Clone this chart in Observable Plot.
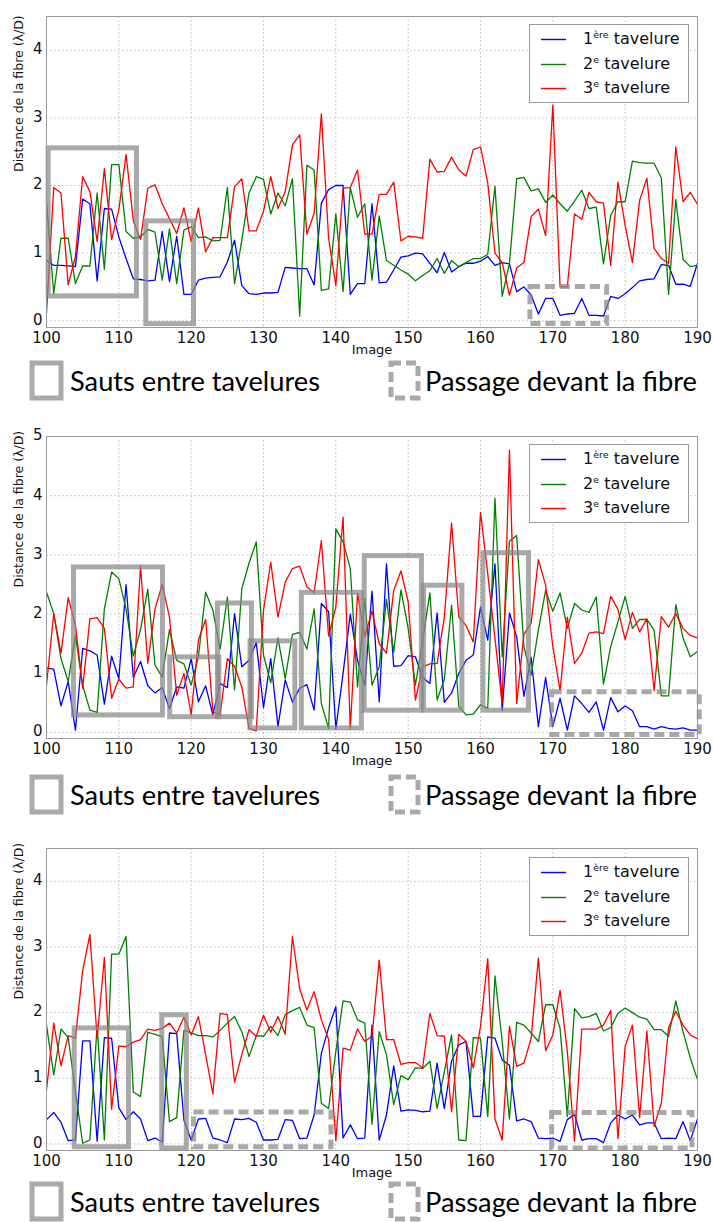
<!DOCTYPE html>
<html>
<head>
<meta charset="utf-8">
<script src="https://cdn.jsdelivr.net/npm/d3@7"></script>
<script src="https://cdn.jsdelivr.net/npm/@observablehq/plot@0.6"></script>
<style>
  html, body { margin: 0; padding: 0; background: #fff; }
  body { width: 713px; height: 1222px; position: relative; overflow: hidden; font-family: "DejaVu Sans", sans-serif; }
  .panel { position: absolute; left: 0; }
  .leg { position: absolute; left: 529px; width: 158px; height: 77px; border: 1px solid #999; background: #fff; box-sizing: content-box; }
  .leg .row { position: absolute; left: 0; height: 20px; width: 158px; }
  .leg .sample { position: absolute; left: 11px; top: 9px; }
  .leg .lbl { position: absolute; left: 53px; top: 0; font-size: 16px; line-height: 20px; color: #111; white-space: nowrap; }
  .leg sup { font-size: 9.5px; vertical-align: 0; position: relative; top: -6px; }
  .boxleg { position: absolute; left: 0; width: 713px; height: 42px; }
</style>
</head>
<body>
<script>
// ---------- data ----------
const imageStart = 100, imageEnd = 190;
const images = d3.range(imageStart, imageEnd + 1);
const xTicks = [100, 110, 120, 130, 140, 150, 160, 170, 180, 190];
const yTicks1 = [0, 1, 2, 3, 4];
const yTicks2 = [0, 1, 2, 3, 4, 5];
const yTicks3 = [0, 1, 2, 3, 4];
const seriesNames = ["1ère tavelure", "2e tavelure", "3e tavelure"];
const seriesColors = ["#0000ff", "#008000", "#ff0000"];
const xLabel = "Image";
const yLabel = "Distance de la fibre (λ/D)";
const boxLegendLabels = ["Sauts entre tavelures", "Passage devant la fibre"];

// Panel 1
const blue1 = [0.89,0.82,0.82,0.81,0.80,1.80,1.73,0.59,1.66,1.65,
  1.24,0.92,0.62,0.61,0.59,0.60,1.32,0.58,1.25,0.39,
  0.39,0.60,0.63,0.64,0.65,0.87,1.19,0.52,0.40,0.39,
  0.41,0.41,0.42,0.79,0.78,0.77,0.77,0.53,1.74,1.94,
  2.00,2.00,0.39,0.55,0.55,1.73,0.56,0.57,0.75,0.94,
  0.96,1.00,0.99,0.85,0.71,1.01,0.72,0.80,0.85,0.85,
  0.88,0.95,0.82,0.86,0.84,0.43,0.50,0.38,0.10,0.33,
  0.33,0.08,0.10,0.11,0.33,0.08,0.08,0.07,0.36,0.33,
  0.40,0.49,0.59,0.61,0.62,0.83,0.82,0.54,0.54,0.51,0.85];
const green1 = [1.76,0.40,1.22,1.22,0.55,0.81,0.81,1.89,0.76,2.31,
  2.31,1.32,1.22,1.24,1.35,1.31,0.60,1.36,0.55,1.34,
  1.39,1.23,1.24,1.18,1.19,1.97,0.55,1.19,1.89,2.13,
  2.09,1.58,1.89,1.70,2.10,0.07,2.30,2.23,0.45,0.47,
  1.58,0.43,1.97,1.53,1.73,0.60,1.55,0.89,0.82,0.75,
  0.69,0.59,0.67,0.74,0.92,0.70,0.89,0.80,0.86,0.92,
  0.92,0.98,1.99,0.36,0.85,2.10,2.12,1.92,1.95,1.75,
  1.86,1.73,1.62,1.77,1.93,1.66,1.68,0.84,1.56,1.76,
  1.76,2.36,2.34,2.33,2.33,2.11,0.39,1.79,0.91,0.80,0.82];
const red1 = [0.11,1.97,1.89,0.53,0.95,2.13,1.91,1.17,2.25,1.20,
  1.64,2.46,1.48,1.20,1.96,2.01,1.73,1.51,1.29,1.67,
  1.17,1.67,1.02,1.23,1.23,1.23,1.98,2.10,1.33,1.33,
  1.62,2.13,1.66,1.91,2.60,2.75,1.28,1.59,3.06,1.22,
  0.52,1.96,1.97,2.23,1.28,1.28,1.87,1.87,2.05,1.18,
  1.25,1.24,1.22,2.39,2.20,2.21,2.42,2.23,2.14,2.53,
  2.57,2.04,1.00,0.86,0.38,0.78,0.86,1.54,1.65,1.26,
  3.19,0.50,0.50,1.58,1.50,1.90,1.76,1.74,0.82,2.05,
  1.41,0.86,1.78,2.11,1.07,0.92,0.85,2.57,1.76,1.90,1.72];
// boxes: [x1, x2, y1, y2]
const jumps1 = [[100.3,112.5,0.36,2.55],[113.8,120.4,-0.05,1.47]];
const passes1 = [[166.9,177.5,-0.05,0.50]];

// Panel 2
const blue2 = [1.09,1.07,0.45,0.86,0.04,1.42,1.38,1.31,0.48,1.29,
  0.91,2.50,0.93,1.20,0.79,0.67,0.76,0.40,0.77,0.75,
  1.25,0.52,0.79,0.30,0.83,0.76,2.01,1.11,1.22,1.52,
  0.42,1.25,0.10,0.89,0.51,0.75,0.81,0.38,2.18,2.04,
  0.06,1.00,2.00,1.22,0.80,2.39,0.52,2.85,1.12,1.13,
  1.30,1.28,0.93,0.83,2.02,0.51,0.67,1.00,1.22,1.31,
  2.12,1.56,2.85,0.37,2.02,1.62,0.61,1.27,0.10,0.93,
  0.10,0.58,0.04,0.62,0.49,0.34,0.52,0.04,0.59,0.35,
  0.45,0.37,0.10,0.10,0.06,0.10,0.07,0.06,0.08,0.04,0.04];
const green2 = [2.37,2.01,1.25,0.86,1.64,0.80,0.38,0.34,2.09,2.71,
  2.60,2.09,1.29,1.74,2.42,1.14,0.94,1.74,1.22,1.16,
  0.80,1.28,2.37,2.07,1.41,2.29,0.72,2.43,2.86,3.22,
  1.31,0.84,1.60,0.91,1.66,1.69,1.41,2.09,0.49,0.07,
  3.44,3.22,2.77,0.77,2.26,0.80,1.11,2.25,1.36,2.41,
  1.76,0.80,1.55,2.36,0.55,0.90,2.15,0.44,0.30,0.31,
  0.47,0.41,3.96,1.28,3.23,3.33,1.45,0.97,1.73,2.40,
  2.05,2.36,1.76,2.18,2.07,2.03,2.29,0.82,1.45,1.87,
  2.30,1.76,1.91,1.91,1.73,0.62,0.62,2.16,1.60,1.28,1.37];
const red2 = [0.80,2.01,1.34,2.28,1.81,0.75,1.92,1.94,1.76,0.58,
  0.90,0.75,0.77,2.81,1.17,2.09,2.50,1.95,0.63,1.00,
  0.30,1.56,1.91,0.35,0.30,1.25,1.12,0.77,0.07,0.03,
  2.07,2.88,1.95,2.54,2.77,2.81,2.46,2.36,3.24,1.63,
  2.12,3.64,0.06,2.35,1.62,2.05,1.50,1.34,2.40,2.73,
  2.21,0.55,1.11,1.16,1.17,1.95,3.54,1.95,1.81,1.53,
  3.72,2.68,1.59,0.49,4.77,0.49,1.66,1.85,2.92,2.49,
  1.45,0.71,1.95,1.17,1.34,1.68,1.70,1.67,2.30,2.08,
  1.57,2.03,1.70,1.92,0.71,1.96,1.78,2.01,1.76,1.64,1.60];
const jumps2 = [[103.8,116.1,0.29,2.79],[117.1,123.9,0.26,1.27],[123.7,128.4,0.26,2.18],
  [128.2,134.4,0.07,1.54],[135.3,143.6,0.07,2.36],[144.0,151.9,0.37,2.98],
  [152.2,157.5,0.37,2.48],[160.4,166.7,0.37,3.03]];
const passes2 = [[169.9,190.3,-0.04,0.68]];

// Panel 3
const blue3 = [0.37,0.48,0.33,0.05,0.06,1.57,1.57,0.04,1.62,1.61,
  0.55,0.37,0.49,0.38,0.05,0.09,0.03,1.69,1.68,0.36,
  0.06,0.38,0.39,0.09,0.06,0.02,0.38,0.37,0.39,0.33,
  0.06,0.06,0.07,0.37,0.36,0.08,0.09,0.44,1.38,1.77,
  2.09,0.09,0.29,0.08,0.09,1.81,0.06,0.44,1.19,0.50,
  0.52,0.51,0.49,0.50,1.23,0.54,1.26,1.51,1.56,0.42,
  0.42,1.63,1.61,1.28,1.20,0.35,0.38,0.34,0.09,0.08,
  0.09,0.04,0.37,0.45,0.06,0.08,0.08,0.02,0.32,0.44,
  0.38,0.44,0.29,0.32,0.32,0.08,0.09,0.08,0.34,0.05,0.38];
const green3 = [1.81,1.05,1.75,1.62,0.80,0.01,0.06,1.81,0.06,2.89,
  2.89,3.16,0.79,0.72,1.70,1.67,1.63,0.34,0.40,1.73,
  1.69,1.65,1.65,1.63,1.73,1.84,1.94,1.71,1.33,1.65,
  1.64,1.79,1.65,1.97,2.03,2.08,1.81,1.77,0.62,0.54,
  1.41,2.18,2.16,1.89,1.84,0.30,1.71,1.36,0.60,1.04,
  0.98,1.16,1.15,1.26,0.54,1.10,1.66,0.06,0.05,1.62,
  1.61,0.42,2.56,1.56,0.38,1.85,1.81,1.69,1.56,2.12,
  2.12,1.76,0.42,2.06,1.92,1.94,1.99,1.72,1.77,1.99,
  2.07,2.00,1.93,1.90,1.74,1.74,1.64,2.18,1.71,1.31,0.98];
const red3 = [0.82,1.84,1.19,1.65,1.61,2.64,3.19,1.61,2.84,0.53,
  1.49,1.48,1.55,1.59,1.75,1.73,1.76,1.84,1.69,1.93,
  1.66,1.94,1.36,0.76,1.99,1.97,0.94,1.36,1.74,1.64,
  1.96,1.70,1.94,1.67,3.16,2.36,2.04,2.32,1.89,1.59,
  0.05,1.46,1.43,1.75,1.56,1.64,2.80,1.59,1.59,1.21,
  1.24,1.24,1.16,1.99,1.65,1.64,0.49,1.67,1.56,1.16,
  1.79,2.82,0.38,0.06,1.79,1.18,1.23,1.61,2.83,1.42,
  1.66,2.34,1.41,0.04,1.75,1.75,1.75,1.81,2.03,0.08,
  1.49,1.81,0.40,1.72,0.27,0.62,1.77,2.02,1.81,1.66,1.60];
const jumps3 = [[103.9,111.4,-0.05,1.76],[116.0,119.4,-0.07,1.96]];
const passes3 = [[120.4,139.4,-0.05,0.48],[169.9,189.3,-0.07,0.47]];

// ---------- drawing ----------
const BOX_STROKE = "#888";

function makePanel(cfg) {
  const series = [cfg.blue, cfg.green, cfg.red];
  const lineMarks = series.map((vals, k) =>
    Plot.line(images.map((img, i) => ({image: img, value: vals[i]})),
      {x: "image", y: "value", stroke: seriesColors[k], strokeWidth: 1.3}));
  const height = cfg.marginTop + cfg.frameH + 35;
  const chart = Plot.plot({
    width: 713,
    height,
    marginTop: cfg.marginTop,
    marginBottom: 35,
    marginLeft: 46,
    marginRight: 16,
    style: {fontFamily: "DejaVu Sans, sans-serif", fontSize: "15px", background: "transparent", overflow: "visible", color: "#111"},
    x: {domain: [imageStart, imageEnd]},
    y: {domain: [-0.1, cfg.yMax]},
    marks: [
      Plot.gridX(xTicks, {stroke: "#bdbdbd", strokeOpacity: 1, strokeDasharray: "1.5,2.5"}),
      Plot.gridY(cfg.yTicks, {stroke: "#bdbdbd", strokeOpacity: 1, strokeDasharray: "1.5,2.5"}),
      ...lineMarks,
      Plot.rect(cfg.jumps, {x1: d => d[0], x2: d => d[1], y1: d => d[2], y2: d => d[3],
        fill: "none", stroke: BOX_STROKE, strokeOpacity: 0.72, strokeWidth: 5}),
      Plot.rect(cfg.passes, {x1: d => d[0], x2: d => d[1], y1: d => d[2], y2: d => d[3],
        fill: "none", stroke: BOX_STROKE, strokeOpacity: 0.72, strokeWidth: 5, strokeDasharray: "10,5"}),
      Plot.frame({stroke: "#999", strokeWidth: 1}),
      Plot.axisX(xTicks, {tickSize: 0, tickPadding: 5, label: null, fontSize: 15, tickFormat: d => String(d)}),
      Plot.axisY(cfg.yTicks, {tickSize: 0, tickPadding: 4, label: null, fontSize: 15, tickFormat: d => String(d), dy: -1}),
      Plot.text([xLabel], {text: d => d, frameAnchor: "bottom", dy: 26, fontSize: 13}),
      Plot.text([yLabel], {text: d => d, frameAnchor: "left", dx: -28, rotate: -90, fontSize: 12.5})
    ]
  });
  const wrap = document.createElement("div");
  wrap.className = "panel";
  wrap.style.top = cfg.top + "px";
  wrap.appendChild(chart);
  document.body.appendChild(wrap);

  // line legend (upper right)
  const leg = document.createElement("div");
  leg.className = "leg";
  leg.style.top = cfg.legendTop + "px";
  const labelsHtml = [
    "1<sup>ère</sup> tavelure",
    "2<sup>e</sup> tavelure",
    "3<sup>e</sup> tavelure"
  ];
  seriesNames.forEach((name, k) => {
    const row = document.createElement("div");
    row.className = "row";
    row.style.top = (4 + k * 24.5) + "px";
    row.title = name;
    row.innerHTML = `<svg class="sample" width="25" height="3" style="top:${9}px"><line x1="0" y1="1.5" x2="25" y2="1.5" stroke="${seriesColors[k]}" stroke-width="1.4"/></svg><div class="lbl">${labelsHtml[k]}</div>`;
    leg.appendChild(row);
  });
  document.body.appendChild(leg);

  // box legend below
  const bl = document.createElement("div");
  bl.className = "boxleg";
  bl.style.top = cfg.boxLegTop + "px";
  bl.innerHTML = `
  <svg width="713" height="42" style="display:block">
    <rect x="32" y="3" width="29" height="35" fill="none" stroke="${BOX_STROKE}" stroke-opacity="0.72" stroke-width="5"/>
    <text x="70" y="31" font-family="Lato, 'Open Sans', sans-serif" font-size="27" fill="#000" textLength="250" lengthAdjust="spacingAndGlyphs">${boxLegendLabels[0]}</text>
    <rect x="391" y="3" width="27" height="35" fill="none" stroke="${BOX_STROKE}" stroke-opacity="0.72" stroke-width="5" stroke-dasharray="10,5"/>
    <text x="425" y="31" font-family="Lato, 'Open Sans', sans-serif" font-size="27" fill="#000" textLength="272" lengthAdjust="spacingAndGlyphs">${boxLegendLabels[1]}</text>
  </svg>`;
  document.body.appendChild(bl);
}

makePanel({top: 0, marginTop: 16, frameH: 311, yMax: 4.5, yTicks: yTicks1,
  blue: blue1, green: green1, red: red1, jumps: jumps1, passes: passes1,
  legendTop: 24, boxLegTop: 360});
makePanel({top: 400, marginTop: 36, frameH: 302, yMax: 5, yTicks: yTicks2,
  blue: blue2, green: green2, red: red2, jumps: jumps2, passes: passes2,
  legendTop: 444, boxLegTop: 774});
makePanel({top: 815, marginTop: 33, frameH: 302, yMax: 4.5, yTicks: yTicks3,
  blue: blue3, green: green3, red: red3, jumps: jumps3, passes: passes3,
  legendTop: 857, boxLegTop: 1181});
</script>
</body>
</html>
